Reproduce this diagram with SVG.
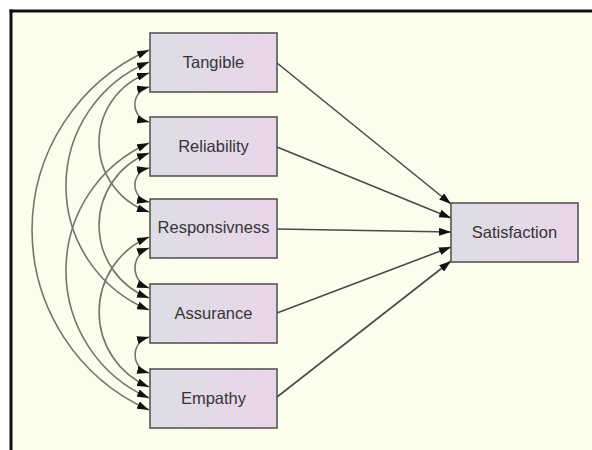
<svg xmlns="http://www.w3.org/2000/svg" width="592" height="450" viewBox="0 0 592 450">
  <defs>
    <linearGradient id="boxFill" x1="0" y1="0" x2="1" y2="0">
      <stop offset="0" stop-color="#dcdee5"/>
      <stop offset="1" stop-color="#ebd4ea"/>
    </linearGradient>
    <marker id="head" viewBox="0 0 12 8" refX="12" refY="4" markerWidth="12" markerHeight="8" markerUnits="userSpaceOnUse" orient="auto-start-reverse">
      <path d="M0,0 L12,4 L0,8 z" fill="#111"/>
    </marker>
    <style>
      .box { fill: url(#boxFill); stroke: #555; stroke-width: 1.6; }
      .label { font-family: "Liberation Sans", Arial, sans-serif; font-size: 16.5px; fill: #353535; text-anchor: middle; }
      .cov { fill: none; stroke: #74746b; stroke-width: 1.6; marker-start: url(#head); marker-end: url(#head); }
      .path { fill: none; stroke: #4a4a4a; stroke-width: 1.6; marker-end: url(#head); }
    </style>
  </defs>

  <!-- page and frame -->
  <rect x="0" y="0" width="592" height="450" fill="#ffffff"/>
  <rect x="11" y="11" width="581" height="439" fill="#fdfdee"/>
  <line x1="11" y1="9.5" x2="11" y2="450" stroke="#111" stroke-width="3"/>
  <line x1="9.5" y1="11" x2="592" y2="11" stroke="#111" stroke-width="3"/>

  <!-- connectors -->
  <g id="connectors">
    <!-- covariances between predictors -->
    <path class="cov" d="M149,87 A17.9,17.9 0 0 0 149,122"/>
    <path class="cov" d="M149,168 A17.3,17.3 0 0 0 149,202"/>
    <path class="cov" d="M149,248 A21.3,21.3 0 0 0 149,288"/>
    <path class="cov" d="M149,337 A18.6,18.6 0 0 0 149,373"/>
    <path class="cov" d="M149,73 A73.3,73.3 0 0 0 149,212"/>
    <path class="cov" d="M149,153 A77.6,77.6 0 0 0 149,298"/>
    <path class="cov" d="M149,237 A81.3,81.3 0 0 0 149,387"/>
    <path class="cov" d="M149,62 A134.1,134.1 0 0 0 149,310"/>
    <path class="cov" d="M149,143 A139.4,139.4 0 0 0 149,398"/>
    <path class="cov" d="M149,50 A197,197 0 0 0 149,410"/>
    <!-- regression paths -->
    <path class="path" d="M277,63 L451,204"/>
    <path class="path" d="M277,147 L451,218"/>
    <path class="path" d="M277,229 L451,232"/>
    <path class="path" d="M277,313 L451,247"/>
    <path class="path" d="M277,397 L451,261"/>
  </g>

  <g id="tangible">
    <rect class="box" x="150" y="33" width="127" height="59"/>
    <text class="label" x="213.5" y="68">Tangible</text>
  </g>
  <g id="reliability">
    <rect class="box" x="150" y="117" width="127" height="59"/>
    <text class="label" x="213.5" y="152">Reliability</text>
  </g>
  <g id="responsivness">
    <rect class="box" x="150" y="199" width="127" height="59"/>
    <text class="label" x="213.5" y="233">Responsivness</text>
  </g>
  <g id="assurance">
    <rect class="box" x="150" y="284" width="127" height="59"/>
    <text class="label" x="213.5" y="319">Assurance</text>
  </g>
  <g id="empathy">
    <rect class="box" x="150" y="369" width="127" height="59"/>
    <text class="label" x="213.5" y="404">Empathy</text>
  </g>
  <g id="satisfaction">
    <rect class="box" x="451" y="203" width="127" height="59"/>
    <text class="label" x="514.5" y="238">Satisfaction</text>
  </g>
</svg>
